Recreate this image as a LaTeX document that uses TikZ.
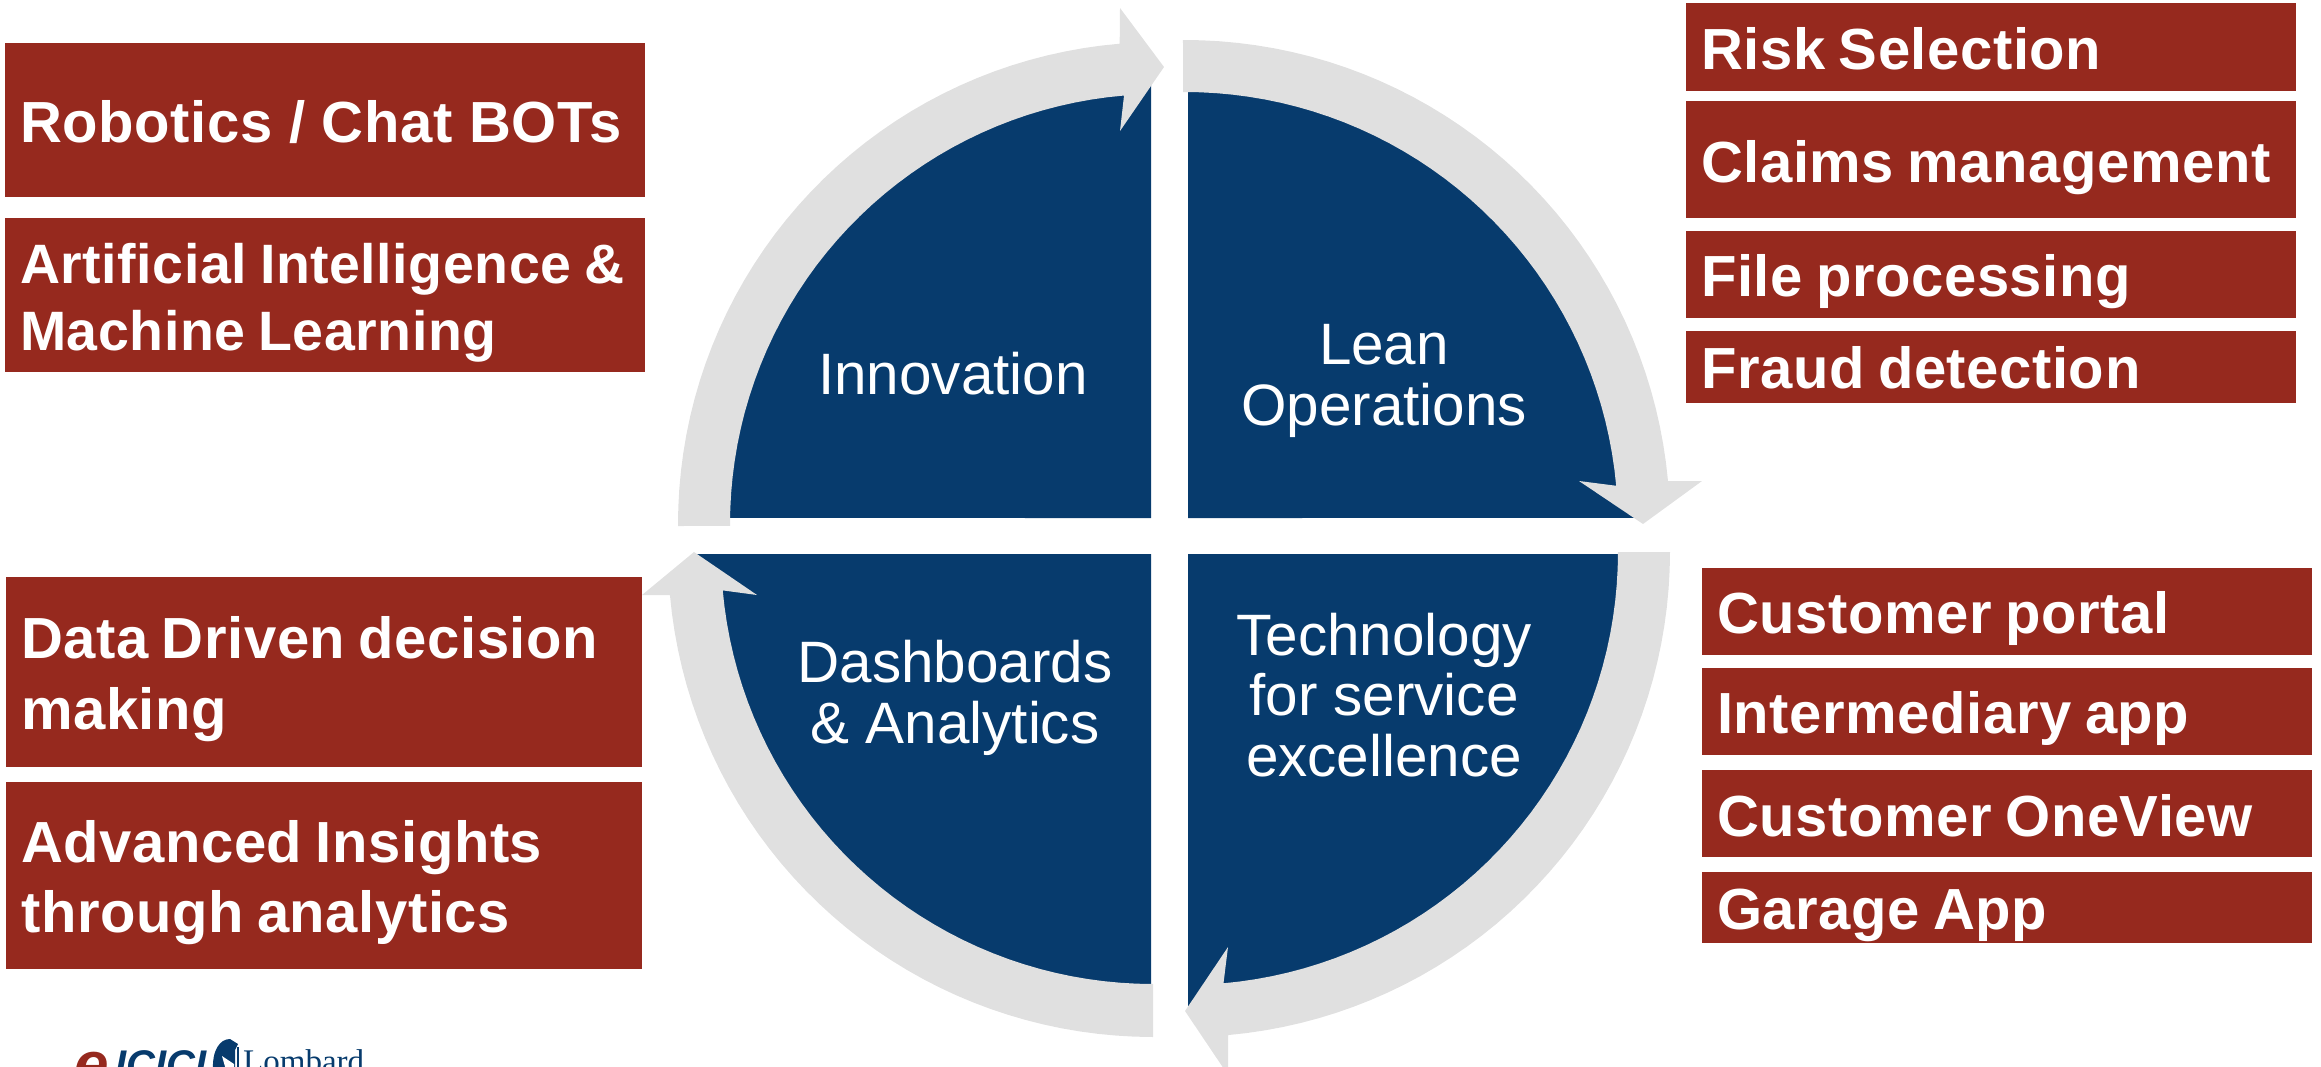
\documentclass[tikz,border=0pt]{standalone}
\usepackage{fontspec}
\setmainfont{Liberation Sans}[BoldFeatures={WordSpace=0.8,LetterSpace=1.0}]
\newfontfamily\widebold{Liberation Sans}[BoldFeatures={WordSpace=1.0,LetterSpace=1.0}]
\newfontfamily\logoserif{Liberation Serif}
\definecolor{quadblue}{HTML}{073B6D}
\definecolor{boxred}{HTML}{96291E}
\definecolor{ringgray}{HTML}{E0E0E0}
\begin{document}
\begin{tikzpicture}[
  x=1pt, y=-1pt, line join=round,
  itemtext/.style 2 args={text=white, anchor=base west, align=left, inner sep=0pt,
    font=\fontsize{#1}{#2}\selectfont\bfseries},
  quadtext/.style={text=white, align=center, inner sep=0pt,
    font=\fontsize{58.4}{60.5}\selectfont},
  logotext/.style={anchor=base west, inner sep=0pt}]
\useasboundingbox (0,0) rectangle (2321,1066);
\foreach \cx/\cy/\r/\s/\e/\px/\py in {
    1160/524/455/180.76/268.87/1151/518, 1185/525/458/270.38/359.12/1188/518,
    1185/552/458/0.25/89.62/1188/554, 1153/552/457/90.25/179.75/1151/554}
  \fill [quadblue, domain=\s:\e, samples=40, variable=\t] (\px,\py) --
    plot ({\cx+\r*cos(\t)}, {\cy+\r*sin(\t)}) -- cycle;
\foreach \cx/\cy/\ro/\ri/\s/\e/\ax/\ay/\tx/\ty/\bx/\by in {
    1160/524/482/430/179.76/265.2/1120/8/1164/67/1120/131,
    1185/525/485/433/269.76/354.8/1702/481/1643/524/1579/481,
    1185/552/485/433/0/84.9/1228/1075/1185/1011/1228/947,
    1153/552/485/432/90/174.9/642/595/694/552/757/595}
  \fill [ringgray, samples=40, variable=\t]
    plot [domain=\s:\e] ({\cx+\ro*cos(\t)}, {\cy+\ro*sin(\t)}) --
    (\ax,\ay) -- (\tx,\ty) -- (\bx,\by) --
    plot [domain=\e:\s] ({\cx+\ri*cos(\t)}, {\cy+\ri*sin(\t)}) -- cycle;
\node [quadtext] (innovation) at (953,374) {Innovation};
\node [quadtext] (lean) at (1384,381) {Lean\\Operations};
\node [quadtext] (dashboards) at (955,698) {Dashboards\\\& Analytics};
\node [quadtext] (technology) at (1384,695) {Technology\\for service\\excellence};
\foreach \bx/\by/\bw/\bh/\base/\size/\lead/\name/\txt in {
    5/43/640/154/142/58/66/robotics/{\widebold\bfseries Robotics / Chat BOTs},
    5/218/640/154/350/55.5/67/intelligence/{Artificial Intelligence \&\\Machine Learning},
    6/577/636/190/729/58/71/decision/{Data Driven decision\\making},
    6/782/636/187/932/58/70/insights/{Advanced Insights\\through analytics},
    1686/3/610/88/69/58/66/risk/{Risk Selection},
    1686/101/610/117/182/58/66/claims/{Claims management},
    1686/231/610/87/296/58/66/file/{File processing},
    1686/331/610/72/388/58/66/fraud/{Fraud detection},
    1702/568/610/87/633/58/66/portal/{Customer portal},
    1702/668/610/87/733/58/66/intermediary/{Intermediary app},
    1702/770/610/87/836/58/66/oneview/{Customer OneView},
    1702/872/610/71/929/58/66/garage/{Garage App}}{
  \fill [boxred] (\bx,\by) rectangle ++(\bw,\bh);
  \node [itemtext={\size}{\lead}] (\name) at (\bx+15,\base) {\txt};
}
\node [logotext, text=boxred, font=\fontsize{62}{62}\selectfont\bfseries\itshape] (logoe) at (74,1085) {e};
\node [logotext, text=quadblue, font=\fontsize{40}{40}\selectfont\bfseries\itshape] (logoicici) at (115,1078) {ICICI};
\node [logotext, text=quadblue, font=\fontsize{33}{33}\selectfont\logoserif] (logolombard) at (243,1072) {Lombard};
\fill [quadblue] (213,1070) .. controls (212,1050) and (220,1039) .. (230,1039)
  -- (238,1044) -- (235,1050) -- (235,1070) -- cycle;
\fill [white] (222,1056) -- (234,1064) -- (234,1070) -- (226,1070) -- cycle;
\fill [quadblue] (237,1047) rectangle (238.5,1070);
\end{tikzpicture}
\end{document}
